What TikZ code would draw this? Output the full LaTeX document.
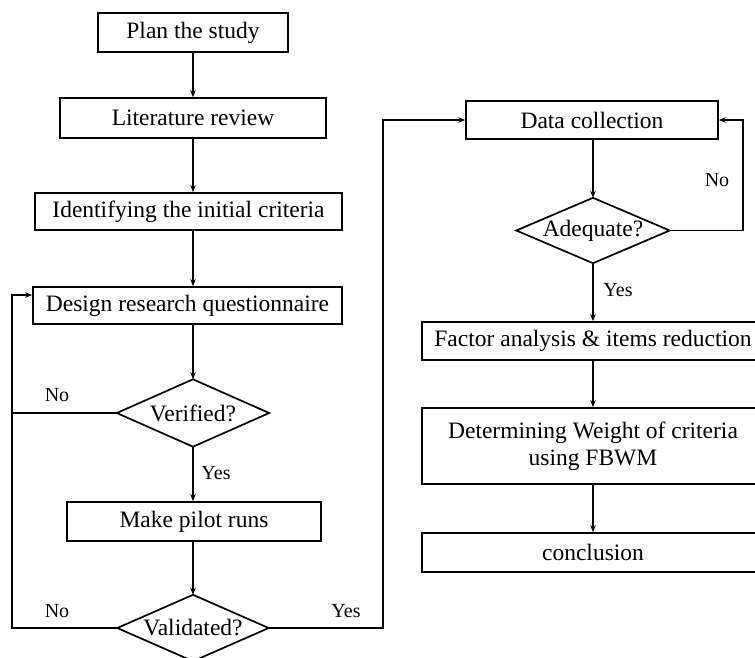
\documentclass[tikz,border=0pt]{standalone}
\usepackage{fontspec}
\setmainfont{Liberation Serif}
\usetikzlibrary{arrows.meta}
\begin{document}
\begin{tikzpicture}[x=1pt,y=-1pt,
  every node/.style={font=\fontsize{23.5}{27}\selectfont},
  box/.style={draw,line width=1.7pt,inner sep=0pt,align=center},
  dia/.style={inner sep=0pt},
  lbl/.style={font=\fontsize{20}{22}\selectfont,inner sep=0pt},
  conn/.style={line width=1.7pt},
  arr/.style={line width=1.7pt,-{Stealth[length=7pt,width=5.5pt]}}
]
\useasboundingbox (0,0) rectangle (755,657);
\clip (0,0) rectangle (755,657);
% left column
\node[box,minimum width=190pt,minimum height=39pt] (plan) at (193,32.5) {Plan the study};
\node[box,minimum width=266pt,minimum height=40pt] (lit) at (193,118) {Literature review};
\node[box,minimum width=307pt,minimum height=37pt] (ident) at (188.5,211.5) {Identifying the initial criteria};
\node[box,minimum width=309pt,minimum height=37pt] (design) at (187.5,305.5) {Design research questionnaire};
\node[dia,minimum width=152pt,minimum height=67pt] (ver) at (193,413) {Verified?};
\node[box,minimum width=254pt,minimum height=39pt] (pilot) at (194,521.5) {Make pilot runs};
\node[dia,minimum width=151pt,minimum height=66pt] (val) at (193,628) {Validated?};
% right column
\node[box,minimum width=252pt,minimum height=38pt] (data) at (592,120) {Data collection};
\node[dia,minimum width=153pt,minimum height=65pt] (adq) at (593,230.5) {Adequate?};
\node[box,minimum width=342pt,minimum height=38pt] (fact) at (593,341) {Factor analysis \& items reduction};
\node[box,minimum width=342pt,minimum height=76pt] (det) at (593,446) {Determining Weight of criteria\\using FBWM};
\node[box,minimum width=342pt,minimum height=39pt] (concl) at (593,552.5) {conclusion};
% diamond outlines
\foreach \d in {ver,val,adq}
  \draw[line width=1.7pt,line join=miter] (\d.north) -- (\d.east) -- (\d.south) -- (\d.west) -- cycle;
% helper coordinates
\coordinate (lx1) at (12,413);
\coordinate (lx2) at (12,628);
\coordinate (lx0) at (12,295);
\coordinate (rx1) at (383,628);
\coordinate (rx0) at (383,120);
\coordinate (ex1) at (743,230.5);
\coordinate (ex0) at (743,120);
% left column connectors
\draw[arr] (plan.south) -- (lit.north);
\draw[arr] (lit.south) -- (lit.south |- ident.north);
\draw[arr] (lit.south |- ident.south) -- (lit.south |- design.north);
\draw[arr] (lit.south |- design.south) -- (ver.north);
\draw[arr] (ver.south) -- (ver.south |- pilot.north);
\draw[arr] (val.north |- pilot.south) -- (val.north);
\draw[conn] (ver.west) -- (lx1);
\draw[arr] (val.west) -- (lx2) -- (lx0) -- (lx0 -| design.west);
\draw[arr] (val.east) -- (rx1) -- (rx0) -- (data.west);
% right column connectors
\draw[arr] (data.south -| adq.north) -- (adq.north);
\draw[arr] (adq.east) -- (ex1) -- (ex0) -- (data.east);
\draw[arr] (adq.south) -- (fact.north);
\draw[arr] (fact.south) -- (det.north);
\draw[arr] (det.south) -- (concl.north);
% labels
\node[lbl] (n1) at (57,395) {No};
\node[lbl] (y1) at (216,473) {Yes};
\node[lbl] (n2) at (57,611) {No};
\node[lbl] (y2) at (346,611) {Yes};
\node[lbl] (n3) at (717,180) {No};
\node[lbl] (y3) at (618,290) {Yes};
\end{tikzpicture}
\end{document}
